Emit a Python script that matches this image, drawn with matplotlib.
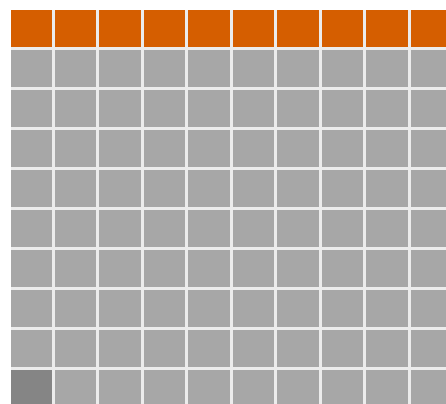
import matplotlib
matplotlib.use("Agg")
import matplotlib.pyplot as plt
from matplotlib.colors import ListedColormap, BoundaryNorm
import numpy as np

# category codes per cell: 0 = gray (base), 1 = orange (highlight), 2 = dark gray
row_0 = [1, 1, 1, 1, 1, 1, 1, 1, 1, 1]
row_1 = [0, 0, 0, 0, 0, 0, 0, 0, 0, 0]
row_2 = [0, 0, 0, 0, 0, 0, 0, 0, 0, 0]
row_3 = [0, 0, 0, 0, 0, 0, 0, 0, 0, 0]
row_4 = [0, 0, 0, 0, 0, 0, 0, 0, 0, 0]
row_5 = [0, 0, 0, 0, 0, 0, 0, 0, 0, 0]
row_6 = [0, 0, 0, 0, 0, 0, 0, 0, 0, 0]
row_7 = [0, 0, 0, 0, 0, 0, 0, 0, 0, 0]
row_8 = [0, 0, 0, 0, 0, 0, 0, 0, 0, 0]
row_9 = [2, 0, 0, 0, 0, 0, 0, 0, 0, 0]
category_colors = ["#A7A7A7", "#D55E00", "#858585"]

grid = np.array([row_0, row_1, row_2, row_3, row_4,
                 row_5, row_6, row_7, row_8, row_9])

W, H = 446, 404
fig = plt.figure(figsize=(W / 100, H / 100), dpi=100)
fig.patch.set_facecolor("white")

# axes region in pixels (clip of a larger grid)
left_px, top_px = 10.5, 10
ax = fig.add_axes([left_px / W, 0, 1 - left_px / W, 1 - top_px / H])

cmap = ListedColormap(category_colors)
norm = BoundaryNorm([-0.5, 0.5, 1.5, 2.5], cmap.N)
ax.pcolormesh(grid, cmap=cmap, norm=norm, edgecolors="#ECECEC",
              linewidth=1.8)

cell_w, cell_h = 44.5, 40.0
x0, y0 = 8.0, 7.5
ax.set_xlim((left_px - x0) / cell_w, (W - x0) / cell_w)
ax.set_ylim((H - y0) / cell_h, (top_px - y0) / cell_h)
ax.axis("off")

fig.savefig("out.png", dpi=100, facecolor="white")
